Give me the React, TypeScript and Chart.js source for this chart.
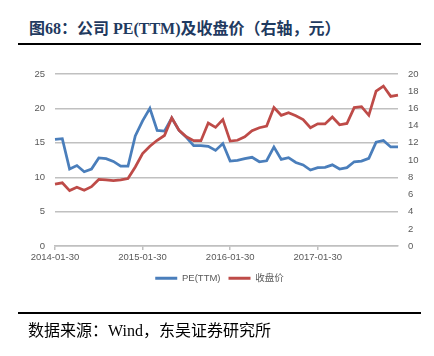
import React, { useEffect, useRef } from "react";
import { Chart, registerables } from "chart.js";

Chart.register(...registerables);

const years = [2014, 2015, 2016, 2017];
const categories: string[] = [];
years.forEach((y) => {
  for (let m = 1; m <= 12; m++) categories.push(`${y}-${String(m).padStart(2, "0")}-30`);
});
const tickLabels = ["2014-01-30", "2015-01-30", "2016-01-30", "2017-01-30"];

const peTTM = [
  15.5, 15.6, 11.2, 11.7, 10.8, 11.2, 12.8, 12.7, 12.3, 11.6, 11.6, 16.0,
  18.2, 20.0, 16.8, 16.7, 18.6, 16.8, 15.8, 14.6, 14.6, 14.5, 13.9, 14.9,
  12.35, 12.45, 12.7, 12.9, 12.25, 12.4, 14.4, 12.6, 12.85, 12.15, 11.8, 11.05,
  11.4, 11.45, 11.8, 11.2, 11.4, 12.25, 12.35, 12.75, 15.1, 15.35, 14.4, 14.4,
];
const closePrice = [
  7.2, 7.35, 6.45, 6.85, 6.5, 6.9, 7.75, 7.7, 7.6, 7.7, 7.85, 9.2,
  10.75, 11.6, 12.3, 12.85, 14.9, 13.45, 12.7, 12.25, 12.25, 14.3, 13.8, 14.7,
  12.2, 12.3, 12.7, 13.4, 13.75, 13.95, 16.1, 15.2, 15.5, 15.15, 14.7, 13.75,
  14.2, 14.2, 15.0, 14.1, 14.25, 16.1, 16.2, 15.2, 18.0, 18.6, 17.4, 17.55,
];
const seriesNames = ["PE(TTM)", "收盘价"];

const BLUE = "#4a7ebb";
const RED = "#be4b48";
const GRID = "#c0c0c0";
const TICK = "#595959";
const FONT = "'Liberation Sans', Arial, 'Noto Sans CJK SC', sans-serif";

export default function App() {
  const ref = useRef<HTMLCanvasElement | null>(null);

  useEffect(() => {
    if (!ref.current) return;
    const chart = new Chart(ref.current, {
      type: "line",
      data: {
        labels: categories,
        datasets: [
          {
            label: seriesNames[0],
            data: peTTM,
            borderColor: BLUE,
            backgroundColor: BLUE,
            borderWidth: 2.75,
            pointRadius: 0,
            tension: 0,
            yAxisID: "y",
            order: 1,
          },
          {
            label: seriesNames[1],
            data: closePrice,
            borderColor: RED,
            backgroundColor: RED,
            borderWidth: 2.75,
            pointRadius: 0,
            tension: 0,
            yAxisID: "y1",
            order: 0,
          },
        ],
      },
      options: {
        responsive: false,
        animation: false,
        devicePixelRatio: 1,
        layout: { padding: { left: 15, right: 10, top: 74, bottom: 63 } },
        plugins: {
          tooltip: { enabled: false },
          legend: {
            position: "bottom",
            labels: {
              boxWidth: 22,
              boxHeight: 3,
              padding: 8,
              color: TICK,
              font: { size: 9.5, family: FONT },
              sort: (a: any, b: any) => a.datasetIndex - b.datasetIndex,
              generateLabels: (c: any) =>
                Chart.defaults.plugins.legend.labels
                  .generateLabels(c)
                  .map((l: any) => ({ ...l, lineWidth: 0, fillStyle: l.strokeStyle })),
            },
          },
        },
        scales: {
          x: {
            type: "category",
            offset: false,
            grid: {
              drawOnChartArea: false,
              drawTicks: true,
              tickLength: 4,
              lineWidth: 1.5,
              color: (ctx: any) => (ctx.index % 12 === 0 ? GRID : "rgba(0,0,0,0)"),
            },
            border: { display: true, color: GRID, width: 1.5 },
            ticks: {
              autoSkip: false,
              maxRotation: 0,
              minRotation: 0,
              padding: 2,
              color: TICK,
              font: { size: 9.5, family: FONT },
              callback: (_v: any, i: number) => (i % 12 === 0 ? tickLabels[i / 12] : ""),
            },
          },
          y: {
            position: "left",
            min: 0,
            max: 25,
            afterFit: (s: any) => {
              s.width = 40;
            },
            ticks: { stepSize: 5, padding: 10, color: TICK, font: { size: 9.5, family: FONT } },
            grid: { color: GRID, lineWidth: 1.5, drawTicks: false },
            border: { display: false },
          },
          y1: {
            position: "right",
            min: 0,
            max: 20,
            afterFit: (s: any) => {
              s.width = 26;
            },
            ticks: { stepSize: 2, padding: 10, color: TICK, font: { size: 9.5, family: FONT } },
            grid: { drawOnChartArea: false, drawTicks: false },
            border: { display: false },
          },
        },
      },
    });
    return () => chart.destroy();
  }, []);

  return (
    <div
      style={{
        position: "absolute",
        left: 0,
        top: 0,
        width: 434,
        height: 356,
        background: "#fff",
        overflow: "hidden",
      }}
    >
      <div
        style={{
          position: "absolute",
          left: 29,
          top: 18,
          fontFamily: "'Liberation Serif', 'Noto Sans CJK SC', serif",
          fontWeight: "bold",
          fontSize: 16,
          lineHeight: "22px",
          color: "#1f3a60",
          whiteSpace: "nowrap",
        }}
      >
        图68：公司 PE(TTM)及收盘价（右轴，元）
      </div>
      <div style={{ position: "absolute", left: 18, top: 43, width: 403, height: 1.5, background: "#000" }} />
      <canvas
        ref={ref}
        width={434}
        height={356}
        style={{ position: "absolute", left: 0, top: 0, width: 434, height: 356 }}
      />
      <div style={{ position: "absolute", left: 18, top: 312, width: 403, height: 1.5, background: "#000" }} />
      <div
        style={{
          position: "absolute",
          left: 28,
          top: 320,
          fontFamily: "'Liberation Serif', 'Noto Sans CJK SC', serif",
          fontSize: 16,
          lineHeight: "22px",
          color: "#000",
          whiteSpace: "nowrap",
        }}
      >
        数据来源：Wind，东吴证券研究所
      </div>
    </div>
  );
}
